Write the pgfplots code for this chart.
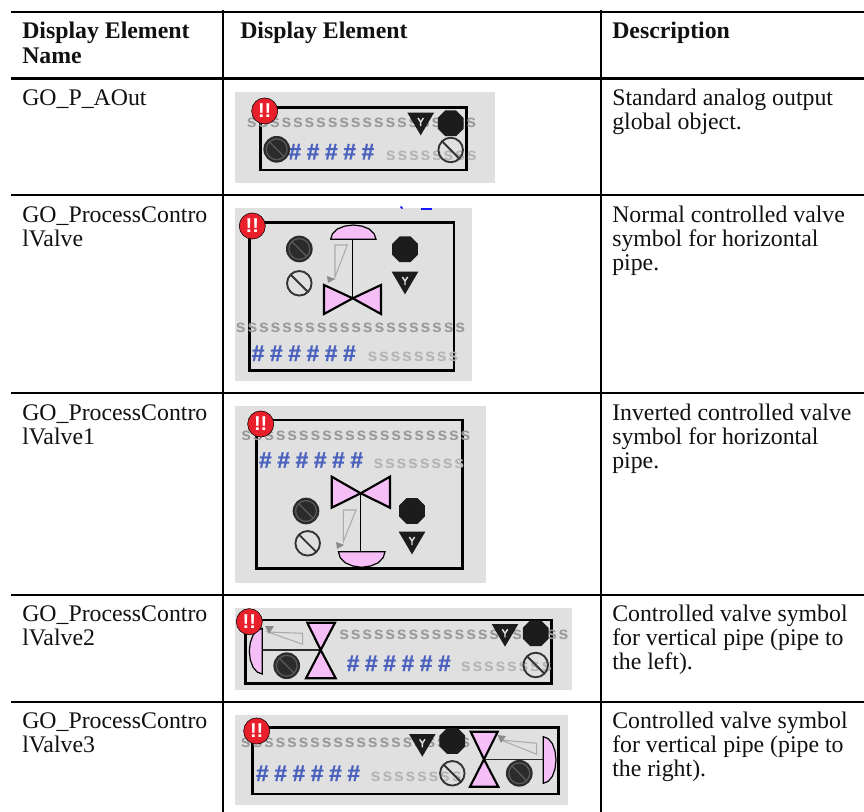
\documentclass[border=0pt]{standalone}
\usepackage{fontspec}
\usepackage{pgfplots}
\pgfplotsset{compat=1.18}
\setmainfont{Liberation Serif}
\newfontfamily\sfont[LetterSpace=10]{Liberation Sans}
\newfontfamily\hfont[LetterSpace=25,FakeBold=1.2]{Liberation Sans}
\newfontfamily\bfont{Liberation Sans}
\definecolor{bgg}{HTML}{E0E0E0}
\definecolor{pinkv}{HTML}{F6BEF6}
\definecolor{ink}{HTML}{111111}
\definecolor{sA}{HTML}{9A9A9A}
\definecolor{sB}{HTML}{B4B4B4}
\definecolor{hb}{HTML}{4A62BE}
\definecolor{redb}{HTML}{E8202C}
\definecolor{darkc}{HTML}{2B2B2B}
\definecolor{darkr}{HTML}{5A5A5A}
\definecolor{octc}{HTML}{1C1C1C}
\definecolor{ringc}{HTML}{333333}
\definecolor{indg}{HTML}{ABABAB}
\definecolor{arrg}{HTML}{8A8A8A}
% plot marks (1 px = 0.75 pt)
\pgfdeclareplotmark{goOct}{%
  \pgfsetfillcolor{octc}%
  \pgfpathmoveto{\pgfqpoint{9.7pt}{4.02pt}}%
  \pgfpathlineto{\pgfqpoint{4.02pt}{9.7pt}}%
  \pgfpathlineto{\pgfqpoint{-4.02pt}{9.7pt}}%
  \pgfpathlineto{\pgfqpoint{-9.7pt}{4.02pt}}%
  \pgfpathlineto{\pgfqpoint{-9.7pt}{-4.02pt}}%
  \pgfpathlineto{\pgfqpoint{-4.02pt}{-9.7pt}}%
  \pgfpathlineto{\pgfqpoint{4.02pt}{-9.7pt}}%
  \pgfpathlineto{\pgfqpoint{9.7pt}{-4.02pt}}%
  \pgfpathclose\pgfusepathqfill}
\pgfdeclareplotmark{goNo}{%
  \pgfsetstrokecolor{ringc}\pgfsetlinewidth{1.4pt}%
  \pgfpathcircle{\pgfpointorigin}{9.2pt}\pgfusepathqstroke
  \pgfpathmoveto{\pgfqpoint{-6.4pt}{6.4pt}}%
  \pgfpathlineto{\pgfqpoint{6.4pt}{-6.4pt}}\pgfusepathqstroke}
\pgfdeclareplotmark{goDark}{%
  \pgfsetfillcolor{darkc}%
  \pgfpathcircle{\pgfpointorigin}{10pt}\pgfusepathqfill
  \pgfsetstrokecolor{darkr}\pgfsetlinewidth{0.9pt}%
  \pgfpathcircle{\pgfpointorigin}{7.8pt}\pgfusepathqstroke
  \pgfpathmoveto{\pgfqpoint{-5.5pt}{5.5pt}}%
  \pgfpathlineto{\pgfqpoint{5.5pt}{-5.5pt}}\pgfusepathqstroke}
\pgfdeclareplotmark{goTri}{%
  \pgfsetfillcolor{octc}%
  \pgfpathmoveto{\pgfqpoint{-10pt}{0pt}}%
  \pgfpathlineto{\pgfqpoint{10pt}{0pt}}%
  \pgfpathlineto{\pgfqpoint{0pt}{-17pt}}%
  \pgfpathclose\pgfusepathqfill
  \pgfsetstrokecolor{bgg}\pgfsetlinewidth{1.1pt}%
  \pgfpathmoveto{\pgfqpoint{0pt}{-10pt}}%
  \pgfpathlineto{\pgfqpoint{0pt}{-7pt}}%
  \pgfpathlineto{\pgfqpoint{-2pt}{-4pt}}\pgfusepathqstroke
  \pgfpathmoveto{\pgfqpoint{0pt}{-7pt}}%
  \pgfpathlineto{\pgfqpoint{2pt}{-4pt}}\pgfusepathqstroke}
\tikzset{pk/.style={draw=black,line width=1.6pt,fill=pinkv},
  act/.style={draw=black,line width=0.9pt,fill=pinkv}}
\newcommand{\Poly}[2]{\addplot[#1] coordinates {#2} --cycle;}
\newcommand{\Ln}[2]{\addplot[#1] coordinates {#2};}
\newcommand{\Ss}[3]{\node[anchor=west,inner sep=0pt,text=sA,font=\sfont\bfseries\fontsize{13.2pt}{14pt}\selectfont] at (axis cs:#1,#2) {#3};}
\newcommand{\St}[3]{\node[anchor=west,inner sep=0pt,text=sB,font=\sfont\bfseries\fontsize{13.2pt}{14pt}\selectfont] at (axis cs:#1,#2) {#3};}
\newcommand{\Hh}[3]{\node[anchor=west,inner sep=0pt,text=hb,font=\hfont\bfseries\fontsize{17pt}{18pt}\selectfont] at (axis cs:#1,#2) {#3};}
\newcommand{\Tx}[3]{\node[anchor=base west,inner sep=0pt,text=ink,font=\fontsize{17.85pt}{18pt}\selectfont] at (axis cs:#1,#2) {#3};}
\newcommand{\Tb}[3]{\node[anchor=base west,inner sep=0pt,text=ink,font=\bfseries\fontsize{17.85pt}{18pt}\selectfont] at (axis cs:#1,#2) {#3};}
\newcommand{\Bang}[2]{\node[inner sep=0pt,text=white,font=\bfont\bfseries\fontsize{15pt}{16pt}\selectfont] at (axis cs:#1,#2) {!!};}
\begin{document}
\begin{tikzpicture}
\begin{axis}[scale only axis,width=648pt,height=609pt,
  xmin=0,xmax=864,ymin=0,ymax=812,y dir=reverse,hide axis,clip mode=individual]
\Poly{fill=white,draw=none}{(0,0)(864,0)(864,812)(0,812)}
% grey backgrounds
\Poly{fill=bgg,draw=none}{(235,92)(495,92)(495,183)(235,183)}
\Poly{fill=bgg,draw=none}{(235,208.3)(471.7,208.3)(471.7,381)(235,381)}
\Poly{fill=bgg,draw=none}{(235,406)(486,406)(486,582.7)(235,582.7)}
\Poly{fill=bgg,draw=none}{(235,608.3)(571.7,608.3)(571.7,690)(235,690)}
\Poly{fill=bgg,draw=none}{(235,715)(567.7,715)(567.7,805)(235,805)}
% stray blue marks
\Ln{draw=blue!90,line width=1.2pt}{(400.5,206.5)(402.5,208.5)}
\Ln{draw=blue!90,line width=1.2pt}{(421,209)(432,209)}
% frames
\Poly{draw=black,line width=1.9pt}{(260.7,107.7)(466.7,107.7)(466.7,170)(260.7,170)}
\Poly{draw=black,line width=1.9pt}{(249.3,222.7)(454,222.7)(454,370.7)(249.3,370.7)}
\Poly{draw=black,line width=1.9pt}{(256.7,420)(462.7,420)(462.7,568.3)(256.7,568.3)}
\Poly{draw=black,line width=1.9pt}{(245.3,620)(551.7,620)(551.7,683.3)(245.3,683.3)}
\Poly{draw=black,line width=1.9pt}{(252.7,727.3)(558.3,727.3)(558.3,794)(252.7,794)}
% placeholder strings
\Ss{246.7}{122.7}{ssssssssssssssssssss}
\Ss{235.7}{328.3}{ssssssssssssssssssss}
\Ss{241}{436}{ssssssssssssssssssss}
\Ss{339}{635}{ssssssssssssssssssss}
\Ss{240.7}{743.3}{ssssssssssssssssssss}
\St{385.7}{156}{ssssssss}
\St{367.3}{356.7}{ssssssss}
\St{373.3}{464}{ssssssss}
\St{460.7}{667.3}{ssssssss}
\St{370.7}{776.7}{ssssssss}
\Hh{270}{151.7}{\#\#\#\#\#\#}
\Hh{251.5}{353.3}{\#\#\#\#\#\#}
\Hh{258.8}{460}{\#\#\#\#\#\#}
\Hh{346.5}{663.3}{\#\#\#\#\#\#}
\Hh{255.8}{773.3}{\#\#\#\#\#\#}
% stems
\Ln{draw=black,line width=1.1pt}{(352.7,239)(352.7,298)}
\Ln{draw=black,line width=1.1pt}{(360.7,493)(360.7,551.7)}
\Ln{draw=darkc,line width=1.1pt}{(262.3,650)(320.7,650)}
\Ln{draw=darkc,line width=1.1pt}{(484,759.3)(543.3,759.3)}
% actuators
\Poly{act}{(330.7,239.3)(332.4,233.9)(337.2,229.1)(344.7,226.1)(353.3,225)(361.9,226.1)(369.4,229.1)(374.2,233.9)(376,239.3)}
\Poly{act}{(338.4,551.7)(340.2,557.6)(345.2,562.8)(352.8,566)(361.7,567.3)(370.6,566)(378.2,562.8)(383.2,557.6)(385,551.7)}
\Poly{act}{(262.3,628.4)(257.4,630.2)(253.1,635)(250.3,642.5)(249.3,651.2)(250.3,659.9)(253.1,667.4)(257.4,672.2)(262.3,674)}
\Poly{act}{(543.3,736.7)(548.1,738.6)(552.3,743.5)(555,751.1)(556,760)(555,768.9)(552.3,776.5)(548.1,781.4)(543.3,783.3)}
% valve bodies
\Poly{pk}{(324,285)(352.7,298.3)(324,314)}
\Poly{pk}{(381,285)(352.7,298.3)(381,314)}
\Poly{pk}{(331.7,476.7)(360.7,493.3)(331.7,507.7)}
\Poly{pk}{(390,476.7)(360.7,493.3)(390,507.7)}
\Poly{pk}{(307.3,622.7)(335,622.7)(320.7,650)}
\Poly{pk}{(306,678.3)(335.7,678.3)(320.7,650)}
\Poly{pk}{(470.7,731.7)(497.7,731.7)(484,759.3)}
\Poly{pk}{(470,786.7)(498.3,786.7)(484,759.3)}
% position indicators
\Poly{draw=indg,line width=0.8pt}{(335,245)(347.3,245)(335,277)}
\Poly{fill=arrg,draw=none}{(327,276)(335,279)(328,283)}
\Poly{draw=indg,line width=0.8pt}{(343.3,510)(356,510)(343.3,541.7)}
\Poly{fill=arrg,draw=none}{(336,542)(344,545)(337,549)}
\Poly{draw=indg,line width=0.8pt}{(268,632)(302.7,633.3)(302.7,644.3)}
\Poly{fill=arrg,draw=none}{(265,626)(274,626)(269,634)}
\Poly{draw=indg,line width=0.8pt}{(501,740)(536.7,743.3)(536.7,754.3)}
\Poly{fill=arrg,draw=none}{(497.5,735)(506,736)(501,743)}
% status icons
\addplot[only marks,mark=goOct] coordinates {(450.7,123.3)(405,249.3)(412,511)(535.7,633.3)(452.3,741)};
\addplot[only marks,mark=goTri] coordinates {(420.7,112.7)(405,271.7)(412,531.7)(505,624)(422.3,734)};
\addplot[only marks,mark=goNo] coordinates {(450.7,150)(299.3,283.3)(307.7,543.3)(535.7,665)(452.3,773.3)};
\addplot[only marks,mark=goDark] coordinates {(276.7,149.3)(299.3,249)(306,511)(286.7,665.7)(519.3,773.3)};
\addplot[only marks,mark=*,mark size=9.8pt,mark options={fill=redb,draw=none}] coordinates {(264.7,111)(252.3,226)(260.7,424)(249.3,621.7)(256.7,731)};
\Bang{264.7}{110.5}
\Bang{252.3}{225.5}
\Bang{260.7}{423.5}
\Bang{249.3}{621.2}
\Bang{256.7}{730.5}
% table rules
\Ln{draw=black,line width=2.2pt}{(11,12)(864,12)}
\Ln{draw=black,line width=2.2pt}{(11,78.3)(864,78.3)}
\Ln{draw=black,line width=1.5pt}{(11,195)(864,195)}
\Ln{draw=black,line width=1.5pt}{(11,393)(864,393)}
\Ln{draw=black,line width=1.5pt}{(11,595)(864,595)}
\Ln{draw=black,line width=1.5pt}{(11,702)(864,702)}
\Ln{draw=black,line width=1.5pt}{(222.5,10)(222.5,812)}
\Ln{draw=black,line width=1.5pt}{(601,10)(601,812)}
% text
\Tb{22}{38.7}{Display Element}
\Tb{22}{64}{Name}
\Tb{240}{38.7}{Display Element}
\Tb{612}{38.7}{Description}
\Tx{22}{105.3}{GO\_P\_AOut}
\Tx{612}{105.3}{Standard analog output}
\Tx{612}{129.3}{global object.}
\Tx{22}{223}{GO\_ProcessContro}
\Tx{22}{247}{lValve}
\Tx{612}{223}{Normal controlled valve}
\Tx{612}{247}{symbol for horizontal}
\Tx{612}{271}{pipe.}
\Tx{22}{420.5}{GO\_ProcessContro}
\Tx{22}{445}{lValve1}
\Tx{612}{420.5}{Inverted controlled valve}
\Tx{612}{445}{symbol for horizontal}
\Tx{612}{469}{pipe.}
\Tx{22}{621}{GO\_ProcessContro}
\Tx{22}{645}{lValve2}
\Tx{612}{621}{Controlled valve symbol}
\Tx{612}{645}{for vertical pipe (pipe to}
\Tx{612}{669}{the left).}
\Tx{22}{728.3}{GO\_ProcessContro}
\Tx{22}{752.5}{lValve3}
\Tx{612}{728.3}{Controlled valve symbol}
\Tx{612}{752.5}{for vertical pipe (pipe to}
\Tx{612}{776}{the right).}
\end{axis}
\end{tikzpicture}
\end{document}
